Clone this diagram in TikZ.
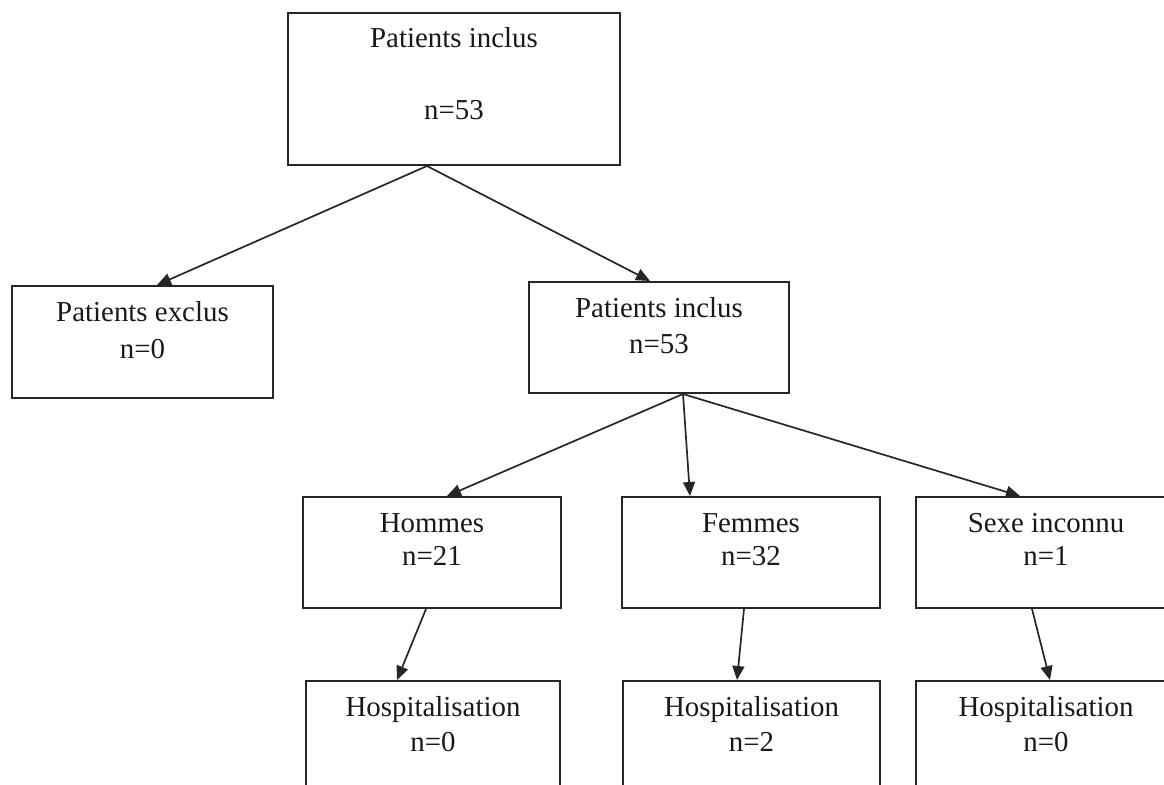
\documentclass[tikz,border=0pt]{standalone}
\usepackage{fontspec}
\setmainfont{Liberation Serif}
\usetikzlibrary{arrows.meta}
\begin{document}
\begin{tikzpicture}[x=0.5pt,y=-0.5pt,
  box/.style={draw=black!85,line width=1pt,inner sep=0pt,fill=none},
  txt/.style={anchor=base,inner sep=0pt,font=\fontsize{14.45}{17}\selectfont,text=black!90},
  arr/.style={draw=black!85,line width=0.85pt,-{Triangle[length=7pt,width=6pt]}}]
\useasboundingbox (0,0) rectangle (1164,784);
\clip (0,0) rectangle (1164,784);
% boxes
\node[box,minimum width=166pt,minimum height=76pt] (top) at (454,89) {};
\node[box,minimum width=130.5pt,minimum height=56pt] (exclus) at (142.5,342) {};
\node[box,minimum width=130pt,minimum height=55.5pt] (inclus) at (659,337.5) {};
\node[box,minimum width=129pt,minimum height=55.5pt] (hommes) at (432,552.5) {};
\node[box,minimum width=129pt,minimum height=55.5pt] (femmes) at (751,552.5) {};
\node[box,minimum width=130pt,minimum height=55.5pt] (sexe) at (1046,552.5) {};
\node[box,minimum width=127pt,minimum height=59.5pt] (hosp1) at (433,740.5) {};
\node[box,minimum width=128.5pt,minimum height=59.5pt] (hosp2) at (751.5,740.5) {};
\node[box,minimum width=130pt,minimum height=59.5pt] (hosp3) at (1046,740.5) {};
% texts
\node[txt] (ta1) at (454,47.5) {Patients inclus};
\node[txt] (ta2) at (454,119.5) {n=53};
\node[txt] (tb1) at (142.5,321.5) {Patients exclus};
\node[txt] (tb2) at (142.5,358.5) {n=0};
\node[txt] (tc1) at (659,317.5) {Patients inclus};
\node[txt] (tc2) at (659,353.5) {n=53};
\node[txt] (td1) at (432,532.5) {Hommes};
\node[txt] (td2) at (432,565.5) {n=21};
\node[txt] (te1) at (751,532.5) {Femmes};
\node[txt] (te2) at (751,565.5) {n=32};
\node[txt] (tf1) at (1046,532.5) {Sexe inconnu};
\node[txt] (tf2) at (1046,565.5) {n=1};
\node[txt] (tg1) at (433,716) {Hospitalisation};
\node[txt] (tg2) at (433,751.5) {n=0};
\node[txt] (th1) at (751.5,716) {Hospitalisation};
\node[txt] (th2) at (751.5,751.5) {n=2};
\node[txt] (ti1) at (1046,716) {Hospitalisation};
\node[txt] (ti2) at (1046,751.5) {n=0};
% arrows
\draw[arr] ([xshift=-13.5pt]top.south) -- ([xshift=7.25pt]exclus.north);
\draw[arr] ([xshift=-13.5pt]top.south) -- ([xshift=-4.5pt]inclus.north);
\draw[arr] ([xshift=12pt]inclus.south) -- ([xshift=7.5pt]hommes.north);
\draw[arr] ([xshift=12pt]inclus.south) -- ([xshift=-30.5pt]femmes.north);
\draw[arr] ([xshift=12pt]inclus.south) -- ([xshift=-13pt]sexe.north);
\draw[arr] ([xshift=-3pt]hommes.south) -- ([xshift=-18pt]hosp1.north);
\draw[arr] ([xshift=-3.5pt]femmes.south) -- ([xshift=-7.25pt]hosp2.north);
\draw[arr] ([xshift=-7pt]sexe.south) -- ([xshift=2pt]hosp3.north);
\end{tikzpicture}
\end{document}
